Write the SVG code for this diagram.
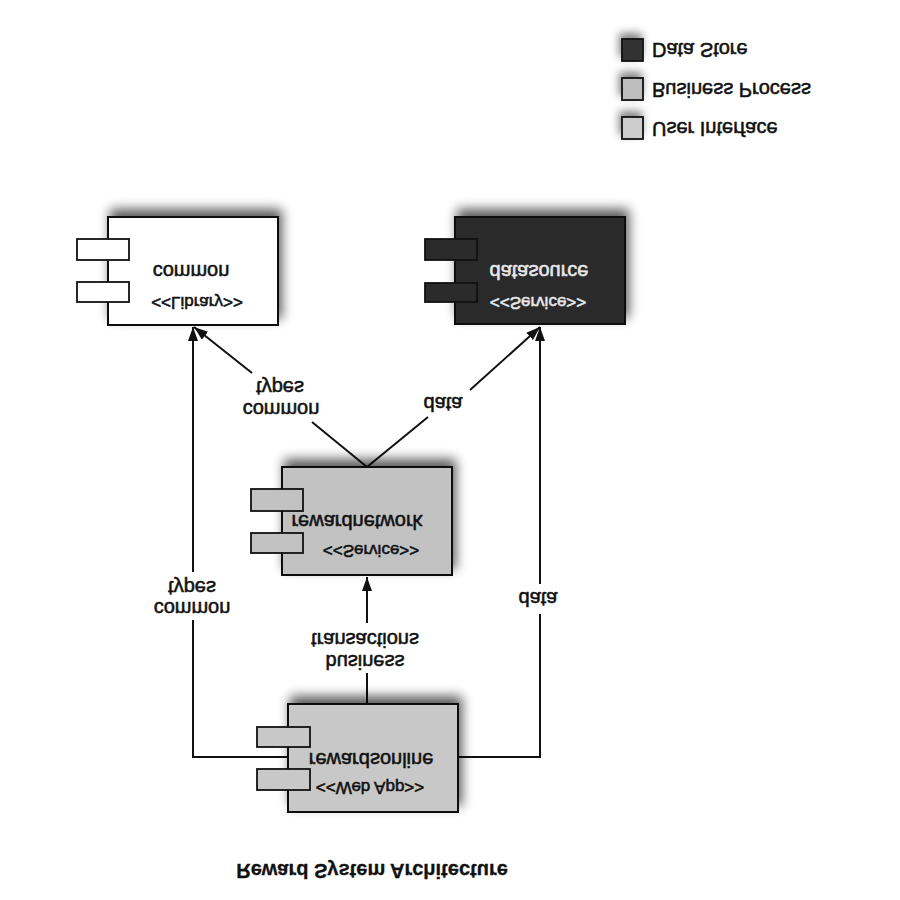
<svg xmlns="http://www.w3.org/2000/svg" width="900" height="900" viewBox="0 0 900 900">
<style>
text{font-family:"Liberation Sans",Arial,sans-serif;fill:#111;stroke:#111;stroke-width:0.55}
.nm{font-size:20px;text-anchor:middle}
.st{font-size:17px;text-anchor:middle}
.lb{font-size:20px;text-anchor:middle}
.lg{font-size:20px}
.ttl{font-size:20px;font-weight:bold;text-anchor:middle;stroke-width:0.3}
.box{stroke:#111;stroke-width:2}
.port{stroke:#111;stroke-width:1.8}
.con{fill:none;stroke:#111;stroke-width:2}
.wt{fill:#e8e8e8;stroke:#e8e8e8}
</style>
<defs>
<filter id="sh" x="-20%" y="-50%" width="140%" height="190%">
<feGaussianBlur in="SourceAlpha" stdDeviation="6"/>
<feOffset dx="3" dy="-7" result="b"/>
<feComponentTransfer><feFuncA type="linear" slope="0.65"/></feComponentTransfer>
<feMerge><feMergeNode/><feMergeNode in="SourceGraphic"/></feMerge>
</filter>
<filter id="shs" x="-80%" y="-80%" width="260%" height="260%">
<feGaussianBlur in="SourceAlpha" stdDeviation="4"/>
<feOffset dx="-2" dy="-5" result="b"/>
<feComponentTransfer><feFuncA type="linear" slope="0.5"/></feComponentTransfer>
<feMerge><feMergeNode/><feMergeNode in="SourceGraphic"/></feMerge>
</filter>
<marker id="ar" viewBox="0 0 14 10" refX="14" refY="5" markerWidth="14" markerHeight="10" markerUnits="userSpaceOnUse" orient="auto">
<path d="M0,0 L14,5 L0,10 Z" fill="#111"/>
</marker>
</defs>
<rect width="900" height="900" fill="#fff"/>

<g id="legend">
<rect x="622" y="39" width="21" height="22" fill="#333" class="port" filter="url(#shs)"/>
<rect x="622" y="78" width="21" height="22" fill="#bdbdbd" class="port" filter="url(#shs)"/>
<rect x="622" y="117" width="21" height="22" fill="#cdcdcd" class="port" filter="url(#shs)"/>
<text class="lg" transform="translate(652,43) scale(1,-1)">Data Store</text>
<text class="lg" transform="translate(652,83) scale(1,-1)">Business Process</text>
<text class="lg" transform="translate(652,122) scale(1,-1)">User Interface</text>
</g>

<g id="connectors">
<path class="con" d="M367,467 L312,422" />
<path class="con" d="M252,373 L194,327" marker-end="url(#ar)"/>
<path class="con" d="M367,467 L428,417" />
<path class="con" d="M470,390 L540,327" marker-end="url(#ar)"/>
<path class="con" d="M288,757 L193,757 L193,620" />
<path class="con" d="M193,572 L193,327" marker-end="url(#ar)"/>
<path class="con" d="M458,757 L540,757 L540,614" />
<path class="con" d="M540,584 L540,327" marker-end="url(#ar)"/>
<path class="con" d="M367,704 L367,673" />
<path class="con" d="M367,623 L367,577" marker-end="url(#ar)"/>
<text class="lb" transform="translate(280,381) scale(1,-1)">types</text>
<text class="lb" transform="translate(281,403) scale(1,-1)">common</text>
<text class="lb" transform="translate(443,397) scale(1,-1)">data</text>
<text class="lb" transform="translate(192,581) scale(1,-1)">types</text>
<text class="lb" transform="translate(192,602) scale(1,-1)">common</text>
<text class="lb" transform="translate(538,592) scale(1,-1)">data</text>
<text class="lb" transform="translate(365,633) scale(1,-1)">transactions</text>
<text class="lb" transform="translate(365,655) scale(1,-1)">business</text>
</g>

<g id="common">
<rect x="108" y="217" width="170" height="108" fill="#fff" class="box" filter="url(#sh)"/>
<rect x="77" y="239" width="52" height="21" fill="#fff" class="port"/>
<rect x="77" y="282" width="52" height="20" fill="#fff" class="port"/>
<text class="nm" transform="translate(191,265) scale(1,-1)">common</text>
<text class="st" transform="translate(197,297) scale(1,-1)">&lt;&lt;Library&gt;&gt;</text>
</g>

<g id="datasource">
<rect x="455" y="217" width="170" height="107" fill="#2b2b2b" class="box" filter="url(#sh)"/>
<rect x="425" y="239" width="52" height="21" fill="#2b2b2b" class="port"/>
<rect x="425" y="283" width="52" height="19" fill="#2b2b2b" class="port"/>
<text class="nm wt" transform="translate(539,265) scale(1,-1)">datasource</text>
<text class="st wt" transform="translate(538,297) scale(1,-1)">&lt;&lt;Service&gt;&gt;</text>
</g>

<g id="rewardnetwork">
<rect x="282" y="467" width="170" height="108" fill="#c2c2c2" class="box" filter="url(#sh)"/>
<rect x="251" y="489" width="52" height="22" fill="#c2c2c2" class="port"/>
<rect x="251" y="533" width="52" height="20" fill="#c2c2c2" class="port"/>
<text class="nm" transform="translate(357,515) scale(1,-1)">rewardnetwork</text>
<text class="st" transform="translate(371,545) scale(1,-1)">&lt;&lt;Service&gt;&gt;</text>
</g>

<g id="rewardsonline">
<rect x="288" y="704" width="170" height="108" fill="#c8c8c8" class="box" filter="url(#sh)"/>
<rect x="257" y="727" width="53" height="20" fill="#c8c8c8" class="port"/>
<rect x="257" y="769" width="53" height="21" fill="#c8c8c8" class="port"/>
<text class="nm" transform="translate(371,753) scale(1,-1)">rewardsonline</text>
<text class="st" transform="translate(370,782) scale(1,-1)">&lt;&lt;Web App&gt;&gt;</text>
</g>

<g id="title">
<text class="ttl" transform="translate(372,864) scale(1,-1)">Reward System Architecture</text>
</g>
</svg>
